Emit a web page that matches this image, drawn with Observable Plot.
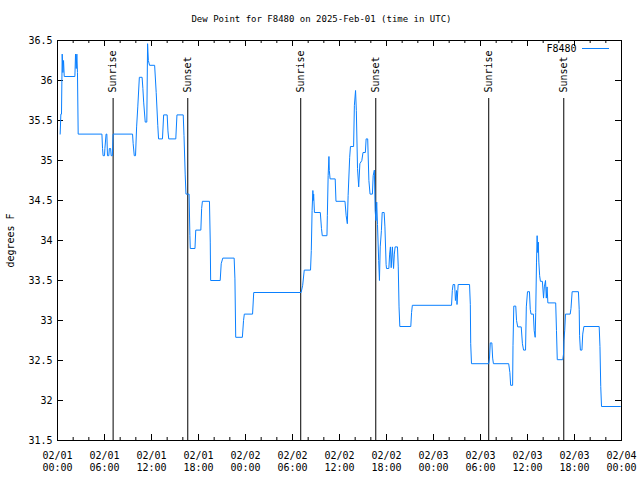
<!DOCTYPE html>
<html><head><meta charset="utf-8">
<script src="https://cdn.jsdelivr.net/npm/d3@7"></script>
<script src="https://cdn.jsdelivr.net/npm/@observablehq/plot@0.6"></script>
<style>body{margin:0;background:#fff}</style>
</head><body><div id="chart"></div>
<script>
const title = "Dew Point for F8480 on 2025-Feb-01 (time in UTC)";
const seriesName = "F8480";
const yLabel = "degrees F";
const startDate = "2025-02-01T00:00:00Z";
const endDate = "2025-02-04T00:00:00Z";

// hours after start (UTC) and dew point (F)
const hours = [0.34,0.43,0.51,0.6,0.69,0.77,0.86,2.22,2.3,2.39,2.47,2.55,2.64,5.67,5.75,5.82,6.0,6.05,6.2,6.3,6.38,6.55,6.62,6.78,6.85,7.0,7.1,9.58,9.66,9.8,9.96,10.1,10.25,10.45,10.8,10.9,11.0,11.2,11.4,11.5,11.6,11.75,12.4,12.6,12.8,12.9,13.4,13.55,14.0,14.1,14.2,15.1,15.25,16.05,16.15,16.3,16.4,16.8,16.9,16.95,17.55,17.65,18.3,18.4,18.5,19.4,19.5,19.55,20.77,20.9,21.1,22.55,22.65,22.75,23.6,23.75,23.85,24.9,25.05,31.1,31.3,31.5,32.3,32.4,32.5,32.6,32.65,32.7,32.8,33.55,33.7,33.8,34.4,34.45,34.55,34.65,34.7,34.8,35.45,35.55,36.7,36.85,37.0,37.1,37.3,37.4,37.8,37.9,38.05,38.15,38.3,38.45,38.6,38.85,39.0,39.3,39.4,39.6,39.75,39.9,40.2,40.3,40.45,40.55,40.65,40.75,40.85,41.0,41.1,41.2,41.35,41.45,41.7,41.8,41.95,42.0,42.3,42.4,42.5,42.6,42.75,42.9,43.0,43.1,43.4,43.5,43.6,43.7,45.1,45.2,45.3,50.3,50.4,50.5,50.7,50.8,50.95,51.0,51.1,51.15,52.6,52.7,52.75,52.85,55.05,55.15,55.25,55.45,55.55,55.65,57.6,57.75,57.85,58.1,58.15,58.25,58.5,58.6,58.75,59.2,59.35,59.5,59.75,59.85,60.0,60.25,60.35,60.45,60.75,60.85,60.98,61.05,61.15,61.23,61.3,61.38,61.45,61.55,61.65,61.9,62.05,62.15,62.3,62.4,62.5,62.6,63.6,63.7,63.8,64.5,64.6,64.65,64.75,64.85,65.45,65.55,65.7,66.5,66.6,66.65,66.75,66.95,67.05,67.2,69.15,69.25,69.35,69.45,71.85];
const dewPoint = [35.33,35.58,35.58,36.33,36.1,36.25,36.05,36.05,36.33,36.15,36.33,36.1,35.33,35.33,35.15,35.06,35.06,35.15,35.33,35.33,35.06,35.06,35.15,35.15,35.06,35.06,35.33,35.33,35.21,35.06,35.06,35.42,35.67,36.04,36.04,35.9,35.73,35.48,35.48,36.46,36.25,36.19,36.19,35.85,35.44,35.27,35.27,35.57,35.57,35.37,35.27,35.27,35.57,35.57,35.31,34.83,34.58,34.58,34.06,33.9,33.9,34.13,34.13,34.4,34.49,34.49,33.98,33.5,33.5,33.71,33.78,33.78,33.52,32.79,32.79,33.0,33.08,33.08,33.35,33.35,33.44,33.63,33.63,33.875,34.375,34.625,34.5,34.58,34.35,34.35,34.15,34.06,34.06,34.31,34.81,35.05,34.875,34.77,34.77,34.49,34.49,34.31,34.21,34.56,35.04,35.175,35.175,35.69,35.875,35.625,34.9,34.67,34.96,35.0,35.1,35.1,35.27,35.27,34.75,34.58,34.58,34.81,34.88,34.375,34.25,34.48,34.2,33.75,33.5,33.92,34.125,34.35,34.35,34.17,33.7,33.65,33.65,33.83,33.92,33.66,33.92,33.65,33.83,33.92,33.92,33.67,33.17,32.925,32.925,33.1,33.19,33.19,33.375,33.45,33.45,33.25,33.375,33.2,33.375,33.45,33.45,33.2,32.71,32.46,32.46,32.53,32.72,32.72,32.53,32.46,32.46,32.35,32.19,32.19,32.69,33.18,33.18,33.0,32.92,32.92,32.71,32.63,32.63,33.17,33.36,33.36,33.14,33.08,33.08,32.875,32.79,33.1,33.73,34.06,33.85,33.98,33.73,33.56,33.49,33.49,33.28,33.42,33.5,33.28,33.42,33.22,33.22,32.875,32.51,32.51,32.58,32.75,32.875,33.08,33.08,33.15,33.36,33.36,33.14,32.81,32.63,32.63,32.83,32.925,32.925,32.675,32.175,31.925,31.925];

const sunHours = [7.1, 16.63, 31.05, 40.63, 55.05, 64.63];
const sunLabels = ["Sunrise", "Sunset", "Sunrise", "Sunset", "Sunrise", "Sunset"];

const yTicks = [31.5, 32, 32.5, 33, 33.5, 34, 34.5, 35, 35.5, 36, 36.5];
const majorTickHours = [0, 6, 12, 18, 24, 30, 36, 42, 48, 54, 60, 66, 72];
const minorTickHours = [2, 4, 8, 10, 14, 16, 20, 22, 26, 28, 32, 34, 38, 40, 44, 46, 50, 52, 56, 58, 62, 64, 68, 70];

const t0 = Date.parse(startDate);
const toDate = h => new Date(t0 + h * 3600e3);
const data = hours.map((h, i) => ({date: toDate(h), value: dewPoint[i]}));
const sun = sunHours.map((h, i) => ({date: toDate(h), label: sunLabels[i]}));
const majors = majorTickHours.map(toDate);
const minors = minorTickHours.map(toDate);

const W = 640, H = 480, mL = 57, mR = 19, mT = 40, mB = 40;
const fw = W - mL - mR, fh = H - mT - mB;
const lineColor = "#0a80ff";
const fmt = d3.utcFormat("%m/%d\n%H:%M");

const chart = Plot.plot({
  width: W, height: H,
  marginLeft: mL, marginRight: mR, marginTop: mT, marginBottom: mB,
  style: {fontFamily: "DejaVu Sans Mono", fontSize: "10px", background: "white", color: "black"},
  x: {type: "utc", domain: [new Date(startDate), new Date(endDate)]},
  y: {domain: [31.5, 36.5]},
  marks: [
    Plot.axisX(majors, {tickSize: 0, tickPadding: 10, tickFormat: fmt, lineHeight: 1.2, label: null, fontSize: 10}),
    Plot.axisY(yTicks, {tickSize: 0, tickPadding: 5, tickFormat: d => String(d), label: null, fontSize: 10}),
    // inward ticks, mirrored
    Plot.ruleX(majors, {insetTop: fh - 6, stroke: "black"}),
    Plot.ruleX(majors, {insetBottom: fh - 6, stroke: "black"}),
    Plot.ruleX(minors, {insetTop: fh - 3, stroke: "black"}),
    Plot.ruleX(minors, {insetBottom: fh - 3, stroke: "black"}),
    Plot.ruleY(yTicks, {insetRight: fw - 6, stroke: "black"}),
    Plot.ruleY(yTicks, {insetLeft: fw - 6, stroke: "black"}),
    // sunrise / sunset
    Plot.ruleX(sun, {x: "date", insetTop: 58, stroke: "black"}),
    Plot.text(sun, {x: "date", text: "label", frameAnchor: "top", dy: 52, rotate: -90, textAnchor: "start", lineAnchor: "middle", fontSize: 10}),
    Plot.line(data, {x: "date", y: "value", stroke: lineColor, strokeWidth: 1}),
    Plot.frame({stroke: "black"}),
    // legend
    Plot.text([seriesName], {frameAnchor: "top-right", dx: -45, dy: 8, textAnchor: "end", lineAnchor: "middle", fontSize: 10}),
    Plot.ruleY([36.5], {dy: 8, insetLeft: fw - 39, insetRight: 12, stroke: lineColor}),
    // title and y label
    Plot.text([title], {frameAnchor: "top", dy: -21, dx: -18, lineAnchor: "middle", fontSize: 9}),
    Plot.text([yLabel], {frameAnchor: "left", dx: -47, rotate: -90, textAnchor: "middle", lineAnchor: "middle", fontSize: 10})
  ]
});
document.getElementById("chart").appendChild(chart);
</script>
</body></html>
